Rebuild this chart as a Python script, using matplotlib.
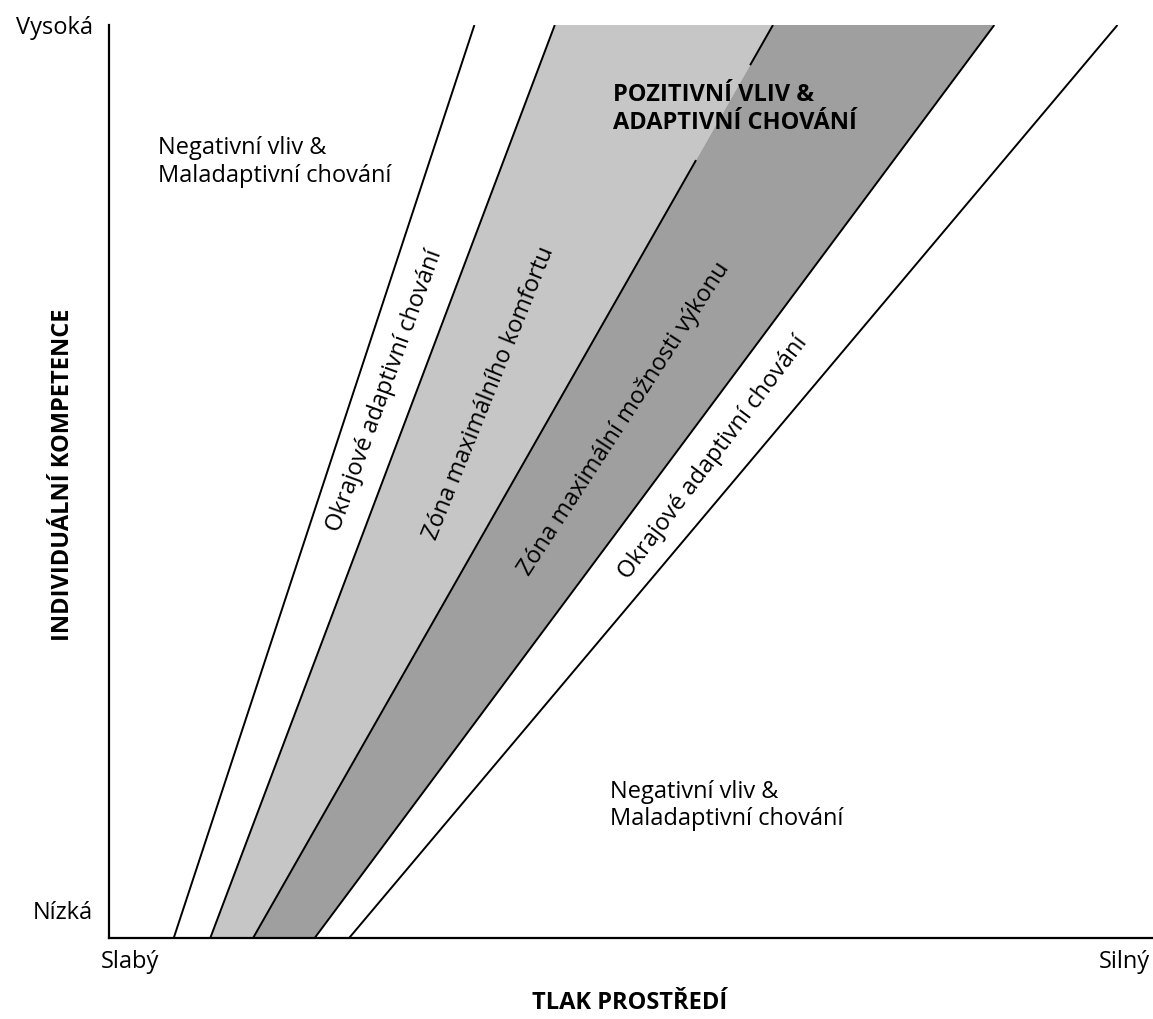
import matplotlib.pyplot as plt

plt.rcParams['font.family'] = ['Open Sans', 'DejaVu Sans']

# hranice zon: poloha na ose "tlak prostredi" pri nizke (0) a vysoke (1) kompetenci
bottom_x = [0.062, 0.097, 0.138, 0.197, 0.230]
top_x = [0.350, 0.427, 0.636, 0.848, 0.966]

# vyplne mezi sousednimi hranicemi (None = bez vyplne)
band_fill = [None, '#c6c6c6', '#9f9f9f', None]

# popisky pasu (text, vyska v pasu, uhel)
band_labels = ['Okrajové adaptivní chování', 'Zóna maximálního komfortu',
               'Zóna maximální možnosti výkonu', 'Okrajové adaptivní chování']
band_label_y = [0.599, 0.597, 0.568, 0.526]
band_label_angle = [70, 68, 57, 53]

x_ticks = ['Slabý', 'Silný']
y_ticks = ['Nízká', 'Vysoká']

fig = plt.figure(figsize=(11.53, 10.19), dpi=100)
ax = fig.add_axes([109 / 1153, 81 / 1019, 1044 / 1153, 913 / 1019])
ax.set_xlim(0, 1)
ax.set_ylim(0, 1)

# pasy
for i, col in enumerate(band_fill):
    if col is None:
        continue
    xs = [bottom_x[i], top_x[i], top_x[i + 1], bottom_x[i + 1]]
    ys = [0, 1, 1, 0]
    ax.fill(xs, ys, color=col, lw=0, zorder=1)

# hranice (stredni cara je prerusena pod nadpisem zony)
gap = (0.852, 0.956)
for i, (b, t) in enumerate(zip(bottom_x, top_x)):
    if i == 2:
        for y0, y1 in [(0, gap[0]), (gap[1], 1)]:
            ax.plot([b + (t - b) * y0, b + (t - b) * y1], [y0, y1], color='black',
                    lw=1.4, zorder=2, solid_capstyle='butt')
    else:
        ax.plot([b, t], [0, 1], color='black', lw=1.4, zorder=2, solid_capstyle='butt')

# popisky pasu - uprostred mezi hranicemi
fs = 17
for i, txt in enumerate(band_labels):
    h = band_label_y[i]
    xl = bottom_x[i] + (top_x[i] - bottom_x[i]) * h
    xr = bottom_x[i + 1] + (top_x[i + 1] - bottom_x[i + 1]) * h
    ax.text((xl + xr) / 2, h, txt, rotation=band_label_angle[i], rotation_mode='anchor',
            ha='center', va='center', fontsize=fs, zorder=3)

# oblasti
ax.text(0.047, 0.850, 'Negativní vliv &\nMaladaptivní chování', ha='left', va='center',
        fontsize=fs, linespacing=1.2)
ax.text(0.480, 0.145, 'Negativní vliv &\nMaladaptivní chování', ha='left', va='center',
        fontsize=fs, linespacing=1.2)
ax.text(0.483, 0.908, 'POZITIVNÍ VLIV &\nADAPTIVNÍ CHOVÁNÍ', ha='left', va='center',
        fontsize=fs, fontweight='bold', linespacing=1.2, zorder=3)

# osy
for s in ['top', 'right']:
    ax.spines[s].set_visible(False)
ax.spines['left'].set_linewidth(1.6)
ax.spines['bottom'].set_linewidth(1.6)
ax.set_xticks([])
ax.set_yticks([])

ax.text(-0.0153, 0.997, y_ticks[1], ha='right', va='center', fontsize=fs, clip_on=False)
ax.text(-0.0153, 0.027, y_ticks[0], ha='right', va='center', fontsize=fs, clip_on=False)
ax.text(-0.008, -0.026, x_ticks[0], ha='left', va='center', fontsize=fs, clip_on=False)
ax.text(0.997, -0.026, x_ticks[1], ha='right', va='center', fontsize=fs, clip_on=False)

ax.text(0.499, -0.071, 'TLAK PROSTŘEDÍ', ha='center', va='center', fontsize=fs,
        fontweight='bold', clip_on=False)
ax.text(-0.044, 0.507, 'INDIVIDUÁLNÍ KOMPETENCE', ha='center', va='center', rotation=90,
        fontsize=fs, fontweight='bold', clip_on=False)

fig.savefig('out.png', dpi=100)
